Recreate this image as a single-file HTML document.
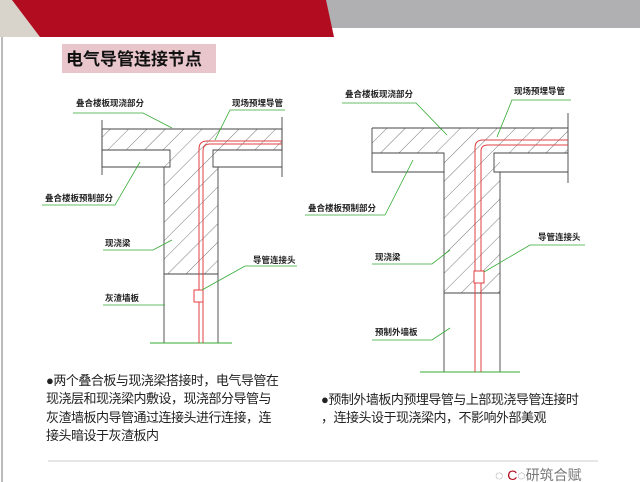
<!DOCTYPE html>
<html><head><meta charset="utf-8"><style>
html,body{margin:0;padding:0;background:#fff;}
body{width:640px;height:482px;position:relative;overflow:hidden;font-family:"Liberation Sans","Noto Sans CJK SC",sans-serif;}
.t{position:absolute;font-size:13px;letter-spacing:-0.5px;color:#222;line-height:18.4px;white-space:nowrap;}
</style></head><body>
<svg width="640" height="482" style="position:absolute;left:0;top:0" xmlns="http://www.w3.org/2000/svg">
<defs>
<pattern id="h" patternUnits="userSpaceOnUse" width="13" height="13" patternTransform="rotate(45)">
<line x1="0" y1="0" x2="0" y2="13" stroke="#555" stroke-width="0.8"/>
</pattern>
</defs>
<rect x="0" y="0" width="640" height="28" fill="#b0afb2"/>
<polygon points="0,0 326,0 334,37 0,37" fill="#b10c1f"/>
<polygon points="0,0 12,0 40,37 0,37" fill="#d8d4cc"/>
<line x1="2" y1="37" x2="2" y2="482" stroke="#bbb" stroke-width="2"/>
<rect x="62" y="44" width="154" height="29" fill="#e8c6cc"/>

<!-- left diagram -->
<g stroke="#444" stroke-width="0.9" fill="none">
<path d="M102,129 H282 V150 H213 V167 H282 M102,129 V150 H170 V167 H102 Z" fill="none"/>
<rect x="102" y="129" width="180" height="21" fill="url(#h)" stroke="none"/>
<polygon points="164,150 213,150 218,150 218,274 164,274" fill="url(#h)" stroke="none"/>
<line x1="102" y1="129" x2="282" y2="129"/>
<line x1="102" y1="150" x2="170" y2="150"/>
<line x1="213" y1="150" x2="282" y2="150"/>
<line x1="164" y1="167" x2="164" y2="343"/>
<line x1="218" y1="167" x2="218" y2="343"/>
<line x1="164" y1="274" x2="218" y2="274"/>
<line x1="102" y1="120" x2="102" y2="175"/>
<line x1="282" y1="117" x2="282" y2="177"/>
</g>
<line x1="150" y1="343" x2="232" y2="343" stroke="#3a3" stroke-width="0.9"/>
<g stroke="#e04040" stroke-width="1" fill="none">
<path d="M199,343 V149 Q199,141 207,141 H282"/>
<path d="M203,343 V151 Q203,144 210,144 H282"/>
<rect x="194" y="290" width="9" height="12" fill="#fff"/>
</g>
<g stroke="#3a3" stroke-width="0.8" fill="none">
<polyline points="73,113 143,113 172,128"/>
<polyline points="285,110 230,110 215,140"/>
<polyline points="42,205 115,205 140,162"/>
<polyline points="103,250 153,250 172,240"/>
<polyline points="297,266 245,266 202,290"/>
<polyline points="103,305 165,305"/>
</g>

<!-- right diagram -->
<rect x="372" y="128" width="196" height="25" fill="url(#h)"/>
<rect x="444" y="153" width="56" height="140" fill="url(#h)"/>
<g stroke="#444" stroke-width="0.9" fill="none">
<line x1="372" y1="128" x2="568" y2="128"/>
<path d="M372,128 V172 H444 V153 H372"/>
<path d="M568,153 H494 V172 H568"/>
<line x1="444" y1="172" x2="444" y2="372"/>
<line x1="500" y1="172" x2="500" y2="372"/>
<line x1="444" y1="293" x2="500" y2="293"/>
<line x1="568" y1="113" x2="568" y2="183"/>
</g>
<line x1="420" y1="372" x2="520" y2="372" stroke="#3a3" stroke-width="0.9"/>
<g stroke="#e04040" stroke-width="1" fill="none">
<path d="M475,372 V148 Q475,140 483,140 H568"/>
<path d="M481,372 V151 Q481,145 488,145 H568"/>
<rect x="474" y="271" width="10" height="12" fill="#fff"/>
</g>
<g stroke="#3a3" stroke-width="0.8" fill="none">
<polyline points="342,103 416,103 447,135"/>
<polyline points="571,100 512,100 497,137"/>
<polyline points="305,215 385,215 413,160"/>
<polyline points="372,264 432,264 450,250"/>
<polyline points="585,245 530,245 484,272"/>
<polyline points="372,340 432,340 450,328"/>
</g>
<line x1="48" y1="461" x2="598" y2="461" stroke="#ccc" stroke-width="1"/>
<g font-family="Liberation Sans, Noto Sans CJK SC, sans-serif" font-size="8.5" font-weight="bold" fill="#222">
<text x="76" y="106">叠合楼板现浇部分</text>
<text x="232" y="106">现场预埋导管</text>
<text x="45" y="201">叠合楼板预制部分</text>
<text x="105" y="246">现浇梁</text>
<text x="253" y="263">导管连接头</text>
<text x="105" y="301">灰渣墙板</text>
<text x="345" y="97">叠合楼板现浇部分</text>
<text x="514" y="94">现场预埋导管</text>
<text x="308" y="211">叠合楼板预制部分</text>
<text x="375" y="260">现浇梁</text>
<text x="538" y="240">导管连接头</text>
<text x="375" y="335">预制外墙板</text>
</g>
<text x="66" y="65" font-family="Liberation Sans, Noto Sans CJK SC, sans-serif" font-size="17" font-weight="bold" fill="#111">电气导管连接节点</text>
<text x="495" y="480" font-family="Liberation Sans, Noto Sans CJK SC, sans-serif" font-size="14" fill="#777">◌ <tspan fill="#b10c1f">C</tspan>◌研筑合赋</text>
</svg>
<div class="t" style="left:46px;top:372px">●两个叠合板与现浇梁搭接时，电气导管在<br>现浇层和现浇梁内敷设，现浇部分导管与<br>灰渣墙板内导管通过连接头进行连接，连<br>接头暗设于灰渣板内</div>
<div class="t" style="left:321px;top:391px">●预制外墙板内预埋导管与上部现浇导管连接时<br>，连接头设于现浇梁内，不影响外部美观</div>
</body></html>
